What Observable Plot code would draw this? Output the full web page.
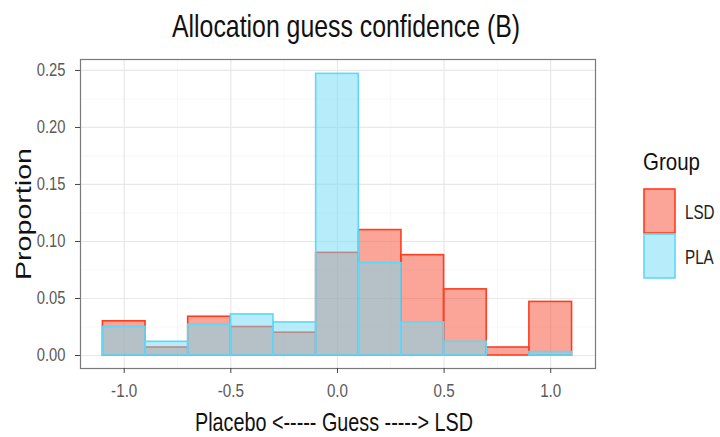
<!DOCTYPE html>
<html><head><meta charset="utf-8">
<script src="https://cdn.jsdelivr.net/npm/d3@7"></script>
<script src="https://cdn.jsdelivr.net/npm/@observablehq/plot@0.6"></script>
<style>html,body{margin:0;padding:0;background:#fff}</style>
</head><body><div id="chart"></div>
<script>
const binCenters = [-1.0, -0.8, -0.6, -0.4, -0.2, 0.0, 0.2, 0.4, 0.6, 0.8, 1.0];
const lsdValues  = [0.030, 0.007, 0.034, 0.025, 0.020, 0.090, 0.110, 0.088, 0.058, 0.007, 0.047];
const plaValues  = [0.025, 0.012, 0.027, 0.036, 0.029, 0.247, 0.081, 0.029, 0.012, 0.000, 0.003];
const groups = ["LSD", "PLA"];
const xTicks = [-1.0, -0.5, 0.0, 0.5, 1.0];
const xMinor = [-0.75, -0.25, 0.25, 0.75];
const yTicks = [0.00, 0.05, 0.10, 0.15, 0.20, 0.25];
const yMinor = [0.025, 0.075, 0.125, 0.175, 0.225];
const binWidth = 0.2;

const FONT = "'Liberation Sans', Arial, sans-serif";
const fills = {LSD: "#f54b31", PLA: "#6fdbf5"};
const strokes = {LSD: "#ff3d1f", PLA: "#5fd7f7"};

const rows = (g, vals) => binCenters.map((c, i) => ({group: g, x1: c - binWidth / 2, x2: c + binWidth / 2, y: vals[i]}));
const lsd = rows("LSD", lsdValues);
const pla = rows("PLA", plaValues);

const chart = Plot.plot({
  width: 720, height: 437,
  marginLeft: 80, marginRight: 125, marginTop: 59, marginBottom: 69,
  style: {fontFamily: FONT, background: "#fff", overflow: "visible"},
  x: {domain: [-1.205, 1.21]},
  y: {domain: [-0.0114, 0.2596]},
  marks: [
    Plot.gridX(xMinor, {stroke: "#f3f3f3", strokeOpacity: 1, strokeWidth: 0.7}),
    Plot.gridY(yMinor, {stroke: "#f3f3f3", strokeOpacity: 1, strokeWidth: 0.7}),
    Plot.gridX(xTicks, {stroke: "#e8e8e8", strokeOpacity: 1, strokeWidth: 1.2}),
    Plot.gridY(yTicks, {stroke: "#e8e8e8", strokeOpacity: 1, strokeWidth: 1.2}),
    Plot.rect(lsd, {x1: "x1", x2: "x2", y1: 0, y2: "y", fill: fills.LSD, fillOpacity: 0.5, stroke: strokes.LSD, strokeWidth: 1.6}),
    Plot.rect(pla, {x1: "x1", x2: "x2", y1: 0, y2: "y", fill: fills.PLA, fillOpacity: 0.5, stroke: strokes.PLA, strokeWidth: 1.6}),
    Plot.frame({stroke: "#7a7a7a", strokeWidth: 1.2}),
    Plot.axisX(xTicks, {tickFormat: d => d.toFixed(1), tickSize: 5, tickPadding: 10, fontSize: 18.5, stroke: "#444", fill: "#5a5a5a", label: null}),
    Plot.axisY(yTicks, {tickFormat: d => d.toFixed(2), tickSize: 5, tickPadding: 10, fontSize: 18, stroke: "#444", fill: "#5a5a5a", label: null})
  ]
});

document.getElementById("chart").appendChild(chart);
// emulate the condensed typeface of the reference on tick labels
d3.select(chart).selectAll("text").each(function () {
  const len = this.getComputedTextLength();
  if (len > 0) {
    this.setAttribute("textLength", (len * 0.82).toFixed(1));
    this.setAttribute("lengthAdjust", "spacingAndGlyphs");
  }
});

const svg = d3.select(chart);
const t = (x, y, s, size, opts = {}) => {
  const el = svg.append("text").text(s)
    .attr("font-size", size).attr("fill", opts.fill || "#111").attr("font-family", FONT)
    .attr("text-anchor", opts.anchor || "start");
  if (opts.transform) el.attr("x", 0).attr("y", 0).attr("transform", opts.transform);
  else el.attr("x", x).attr("y", y);
  if (opts.len) el.attr("textLength", opts.len).attr("lengthAdjust", "spacingAndGlyphs");
  return el;
};
t(346, 37, "Allocation guess confidence (B)", 30.5, {anchor: "middle", len: 348});
t(334, 431, "Placebo <----- Guess -----> LSD", 26, {anchor: "middle", len: 278});
t(0, 0, "Proportion", 27, {anchor: "middle", len: 132, transform: "translate(31,214) scale(0.85,1) rotate(-90)"});
t(643, 170, "Group", 24, {len: 57});
const keyH = 44;
groups.forEach((g, i) => {
  const y0 = 189 + i * (keyH + 1);
  svg.append("rect").attr("x", 644).attr("y", y0).attr("width", 31).attr("height", keyH)
    .attr("fill", fills[g]).attr("fill-opacity", 0.5).attr("stroke", strokes[g]).attr("stroke-width", 1.6);
  t(0, 0, g, 19.5, {fill: "#222", transform: `translate(685,${y0 + keyH / 2 + 7.5}) scale(0.78,1)`});
});
</script>
</body></html>
